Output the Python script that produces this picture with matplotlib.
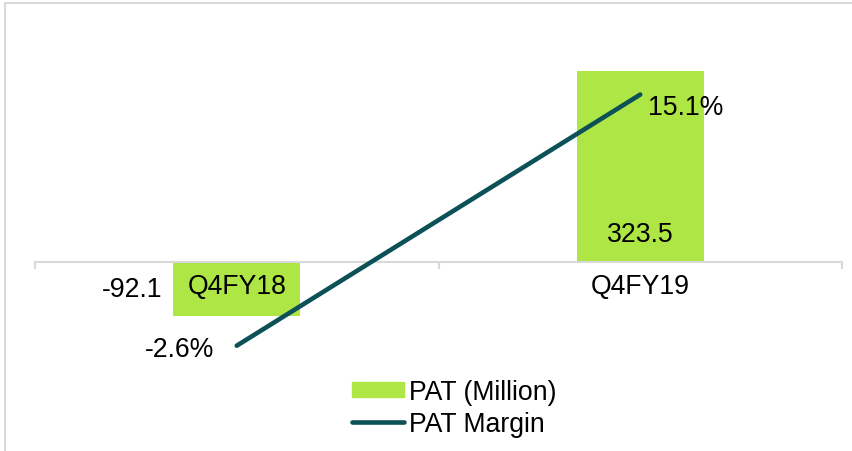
import matplotlib
matplotlib.use('Agg')
import matplotlib.pyplot as plt
from matplotlib.lines import Line2D

plt.rcParams['font.family'] = ['Liberation Sans', 'DejaVu Sans']

# data
quarters = ['Q4FY18', 'Q4FY19']
pat = [-92.1, 323.5]          # PAT (Million)
margin = [-2.6, 15.1]         # PAT Margin (%)
pat_labels = ['-92.1', '323.5']
margin_labels = ['-2.6%', '15.1%']

BAR_COLOR = '#ADE645'
LINE_COLOR = '#0B5157'
GRID_GRAY = '#D9D9D9'
FS = 19.2

W, H = 852, 452
fig = plt.figure(figsize=(W / 100, H / 100), dpi=100)

# plot area in pixels (top 20, bottom 360)
top_px, bot_px = 20, 360
ax = fig.add_axes([35 / W, (H - bot_px) / H, (842 - 35) / W, (bot_px - top_px) / H])
x = list(range(len(quarters)))
ax.bar(x, pat, width=0.315, color=BAR_COLOR, zorder=1)
ax.set_xlim(-0.5, 1.5)

zero_px = 263
scale1 = 0.59
ax.set_ylim(-(bot_px - zero_px) / scale1, (zero_px - top_px) / scale1)

for s in ['top', 'left', 'right']:
    ax.spines[s].set_visible(False)
ax.spines['bottom'].set_position(('data', 0))
ax.spines['bottom'].set_color(GRID_GRAY)
ax.spines['bottom'].set_linewidth(1.5)
ax.set_yticks([])
ax.set_xticks([-0.5, 0.5, 1.5])
ax.set_xticklabels([])
ax.tick_params(axis='x', which='major', length=5, width=1.5, color=GRID_GRAY, direction='out')
ax.set_xticks(x, minor=True)
ax.set_xticklabels(quarters, minor=True, fontsize=FS)
ax.tick_params(axis='x', which='minor', length=0, pad=8)

# bar labels
ax.annotate(pat_labels[0], xy=(x[0] - 0.315 / 2, pat[0] / 2), xytext=(-11, 0),
            textcoords='offset pixels', ha='right', va='center', fontsize=FS)
ax.annotate(pat_labels[1], xy=(x[1], 0), xytext=(0, 28),
            textcoords='offset pixels', ha='center', va='center', fontsize=FS)

# secondary axis for margin
ax2 = ax.twinx()
scale2 = 14.19
zero2_px = 309.8
ax2.set_ylim(-(bot_px - zero2_px) / scale2, (zero2_px - top_px) / scale2)
ax2.axis('off')
ax2.plot(x, margin, color=LINE_COLOR, lw=3.3, solid_capstyle='round')
ax2.annotate(margin_labels[0], xy=(x[0], margin[0]), xytext=(-23, -3),
             textcoords='offset pixels', ha='right', va='center', fontsize=FS)
ax2.annotate(margin_labels[1], xy=(x[1], margin[1]), xytext=(8, -12),
             textcoords='offset pixels', ha='left', va='center', fontsize=FS)

# legend
handles = [plt.Rectangle((0, 0), 1, 1, color=BAR_COLOR),
           Line2D([0], [0], color=LINE_COLOR, lw=3.3, solid_capstyle='round')]
fig.legend(handles, ['PAT (Million)', 'PAT Margin'], loc='center',
           bbox_to_anchor=(454 / W, (H - 409) / H), frameon=False, fontsize=FS,
           handlelength=1.95, handleheight=0.5, handletextpad=0.2,
           labelspacing=0.22, borderpad=0)

# chart border (top and left visible)
fig.add_artist(Line2D([5 / W, 1], [(H - 4) / H] * 2, color=GRID_GRAY, lw=1.5))
fig.add_artist(Line2D([5 / W] * 2, [0, (H - 4) / H], color=GRID_GRAY, lw=1.5))

fig.savefig('out.png', dpi=100)
